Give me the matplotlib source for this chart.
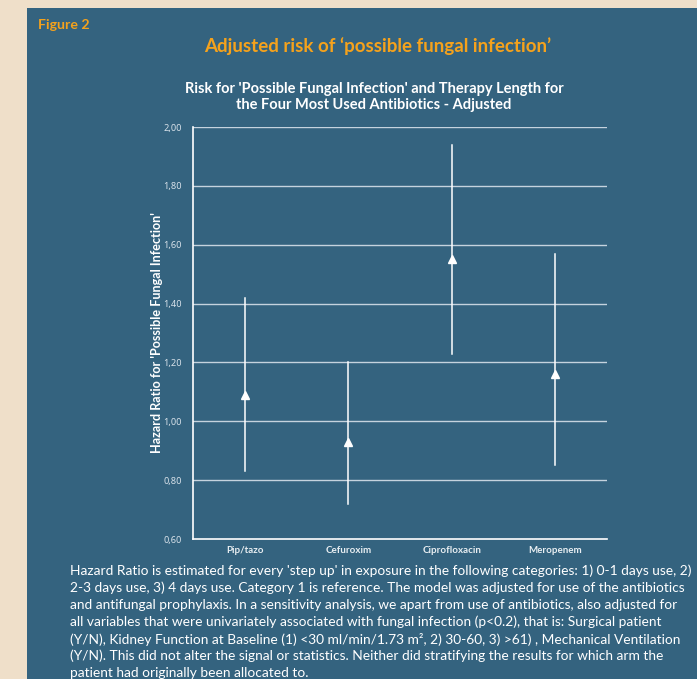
import matplotlib
matplotlib.use("Agg")
import matplotlib.pyplot as plt
from matplotlib.patches import Rectangle

# ---- data ----
categories = ["Pip/tazo", "Cefuroxim", "Ciprofloxacin", "Meropenem"]
hazard_ratio = [1.09, 0.93, 1.55, 1.16]
ci_lower = [0.83, 0.72, 1.23, 0.85]
ci_upper = [1.42, 1.20, 1.94, 1.57]
y_ticks = [0.60, 0.80, 1.00, 1.20, 1.40, 1.60, 1.80, 2.00]
y_tick_labels = ["0,60", "0,80", "1,00", "1,20", "1,40", "1,60", "1,80", "2,00"]

caption_lines = [
    "Hazard Ratio is estimated for every 'step up' in exposure in the following categories: 1) 0-1 days use, 2)",
    "2-3 days use, 3) 4 days use. Category 1 is reference. The model was adjusted for use of the antibiotics",
    "and antifungal prophylaxis. In a sensitivity analysis, we apart from use of antibiotics, also adjusted for",
    "all variables that were univariately associated with fungal infection (p<0.2), that is: Surgical patient",
    "(Y/N), Kidney Function at Baseline (1) <30 ml/min/1.73 m², 2) 30-60, 3) >61) , Mechanical Ventilation",
    "(Y/N). This did not alter the signal or statistics. Neither did stratifying the results for which arm the",
    "patient had originally been allocated to.",
]

BLUE = "#34637f"
BEIGE = "#efdfc9"
ORANGE = "#f5a21c"
GRID = "#c5d3de"
FONT = ["Lato", "DejaVu Sans"]

W, H = 697, 679
fig = plt.figure(figsize=(W / 100, H / 100), dpi=100, facecolor=BEIGE)
fig.patches.append(Rectangle((27 / W, 0), 1 - 27 / W, 1 - 8 / H,
                             transform=fig.transFigure, facecolor=BLUE,
                             edgecolor="none", zorder=-10))

ax = fig.add_axes([193 / W, 1 - 539 / H, (607 - 193) / W, (539 - 127) / H])
ax.set_zorder(5)
ax.set_facecolor(BLUE)
x = list(range(len(categories)))
for xi, lo, hi in zip(x, ci_lower, ci_upper):
    ax.plot([xi, xi], [lo, hi], color="white", lw=1.1, zorder=3)
ax.plot(x, hazard_ratio, linestyle="none", marker="^", ms=5.5, color="white",
        markeredgecolor="white", zorder=4)

ax.set_xlim(-0.5, 3.5)
ax.set_ylim(0.60, 2.00)
ax.set_yticks(y_ticks)
ax.set_yticklabels(y_tick_labels, fontsize=6.6, color="#d8e2ea",
                   family=["Noto Sans", "DejaVu Sans"])
ax.set_xticks(x)
ax.set_xticklabels(categories, fontsize=7, color="#e8eef2", fontweight="bold",
                   family=FONT)
ax.tick_params(axis="y", length=0, pad=8)
ax.tick_params(axis="x", length=0, pad=5)
for yv in y_ticks[1:]:
    ax.axhline(yv, color=GRID, lw=1.0, zorder=1)
for s in ["top", "right"]:
    ax.spines[s].set_visible(False)
for s in ["left", "bottom"]:
    ax.spines[s].set_color("white")
    ax.spines[s].set_linewidth(1.2)
ax.set_ylabel("Hazard Ratio for 'Possible Fungal Infection'", color="white",
              fontsize=9.1, fontweight="bold", family=FONT, labelpad=0)

fig.text(38 / W, 1 - 25 / H, "Figure 2", color=ORANGE, fontsize=10.2,
         fontweight="bold", family=FONT, va="center", ha="left")
fig.text(378 / W, 1 - 46 / H, "Adjusted risk of \u2018possible fungal infection\u2019",
         color=ORANGE, fontsize=13.5, fontweight="bold", family=FONT,
         va="center", ha="center")
fig.text(374 / W, 1 - 97 / H,
         "Risk for 'Possible Fungal Infection' and Therapy Length for\nthe Four Most Used Antibiotics - Adjusted",
         color="white", fontsize=10.5, fontweight="bold", family=FONT,
         va="center", ha="center", linespacing=1.25)

for i, line in enumerate(caption_lines):
    fig.text(70 / W, 1 - (571 + 17 * i) / H, line, color="white", fontsize=9.9,
             family=FONT, va="center", ha="left")

fig.savefig("out.png", dpi=100, facecolor=BEIGE)
